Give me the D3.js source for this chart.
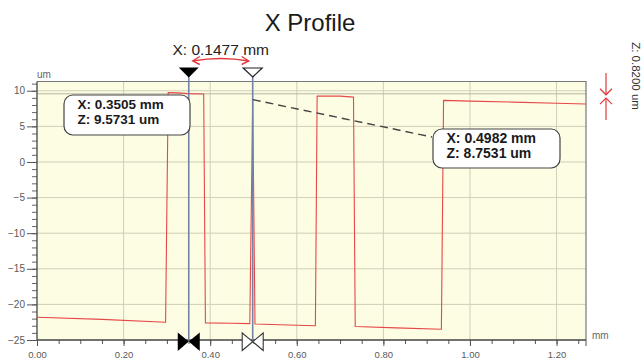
<!DOCTYPE html>
<html><head><meta charset="utf-8">
<script src="https://cdn.jsdelivr.net/npm/d3@7"></script>
<style>
html,body{margin:0;padding:0;background:#fff;}
svg{display:block;font-family:"Liberation Sans",Arial,sans-serif;}
</style></head>
<body>
<svg id="c" width="643" height="360"></svg>
<script>
// ---- data ----
const profileX = [0, 0.15, 0.297, 0.303, 0.325, 0.35, 0.385, 0.389, 0.45, 0.4915, 0.4982, 0.5035, 0.58, 0.643, 0.647, 0.70, 0.731, 0.735, 0.83, 0.934, 0.939, 1.0, 1.1, 1.2, 1.268];
const profileZ = [-21.8, -22.1, -22.5, 9.75, 9.7, 9.6, 9.55, -22.6, -22.65, -22.7, 8.75, -22.75, -22.9, -23.0, 9.25, 9.25, 9.1, -23.1, -23.3, -23.5, 8.65, 8.55, 8.4, 8.25, 8.15];
const cursorX = [0.3505, 0.4982];
const cursorZ = [9.5731, 8.7531];
const xTicks = [0, 0.2, 0.4, 0.6, 0.8, 1.0, 1.2];
const yTicks = [-25, -20, -15, -10, -5, 0, 5, 10];
const title = "X Profile";
const dxLabel = "X: 0.1477 mm";
const dzLabel = "Z: 0.8200 um";

const svg = d3.select("#c");
const x = d3.scaleLinear().domain([0, 1.268]).range([37, 586]);
const y = d3.scaleLinear().domain([-25, 11.3]).range([340, 81.5]);
const [x0, x1] = x.range(), [yB, yT] = y.range();

// background
svg.append("rect").attr("x", x0).attr("y", yT).attr("width", x1 - x0).attr("height", yB - yT).attr("fill", "#fdfde3");

// grid
const g = svg.append("g").attr("stroke", "#cfcfba").attr("stroke-width", 1);
xTicks.filter(v => v > 0).forEach(v => g.append("line").attr("x1", x(v)).attr("x2", x(v)).attr("y1", yT).attr("y2", yB));
yTicks.filter(v => v > -25).forEach(v => g.append("line").attr("x1", x0).attr("x2", x1).attr("y1", y(v)).attr("y2", y(v)));
// level line of cursor 1
svg.append("line").attr("x1", x0).attr("x2", x1).attr("y1", y(cursorZ[0])).attr("y2", y(cursorZ[0])).attr("stroke", "#b5b5a5").attr("stroke-width", 1);

// border
svg.append("path").attr("d", `M${x0},${yT}H${x1}V${yB}`).attr("fill", "none").attr("stroke", "#777").attr("stroke-width", 1.2);

// axes
const minorY = d3.range(-25, 11.01, 1);
const minorX = d3.range(0, 1.2501, 0.05);
svg.append("g").attr("transform", `translate(${x0},0)`).call(d3.axisLeft(y).tickValues(minorY).tickSize(5).tickFormat("")).call(s => { s.select(".domain").remove(); s.selectAll("line").attr("stroke", "#666"); });
svg.append("g").attr("transform", `translate(${x0},0)`).call(d3.axisLeft(y).tickValues(yTicks).tickSize(10).tickPadding(2).tickFormat(d3.format("d")))
  .call(s => { s.select(".domain").attr("stroke", "#444").attr("stroke-width", 1.3).attr("d", `M0,${yT}V${yB}`); s.selectAll("line").attr("stroke", "#555"); s.selectAll("text").attr("fill", "#5a5a5a").attr("font-size", 10).attr("font-family", "Liberation Sans, Arial"); });
svg.append("g").attr("transform", `translate(0,${yB})`).call(d3.axisBottom(x).tickValues(minorX).tickSize(4).tickFormat("")).call(s => { s.select(".domain").remove(); s.selectAll("line").attr("stroke", "#555"); });
svg.append("g").attr("transform", `translate(0,${yB})`).call(d3.axisBottom(x).tickValues(xTicks).tickSize(6).tickPadding(5).tickFormat(d3.format(".2f")))
  .call(s => { s.select(".domain").attr("stroke", "#444").attr("stroke-width", 1.5).attr("d", `M${x0},0H${x1}`); s.selectAll("line").attr("stroke", "#555"); s.selectAll("text").attr("fill", "#5a5a5a").attr("font-size", 9.5).attr("font-family", "Liberation Sans, Arial"); });
svg.append("line").attr("x1", x1).attr("x2", x1).attr("y1", yB).attr("y2", yB + 6).attr("stroke", "#555");

svg.append("text").attr("x", x0).attr("y", 78).attr("font-size", 10).attr("fill", "#666").text("um");
svg.append("text").attr("x", 592).attr("y", 339).attr("font-size", 10).attr("fill", "#666").text("mm");

// profile
const pts = profileX.map((v, i) => [v, profileZ[i]]);
svg.append("path").datum(pts).attr("d", d3.line().x(d => x(d[0])).y(d => y(d[1])))
  .attr("fill", "none").attr("stroke", "#e64848").attr("stroke-width", 1.1).attr("stroke-linejoin", "round");

// cursor lines
cursorX.forEach(v => svg.append("line").attr("x1", x(v)).attr("x2", x(v)).attr("y1", 76).attr("y2", yB).attr("stroke", "#7383a8").attr("stroke-width", 1.6));

// dashed connector
svg.append("line").attr("x1", x(cursorX[1])).attr("y1", y(cursorZ[1])).attr("x2", 432).attr("y2", 137)
  .attr("stroke", "#444").attr("stroke-width", 1.4).attr("stroke-dasharray", "8,5");

// top triangles
const cx0 = x(cursorX[0]), cx1 = x(cursorX[1]);
svg.append("path").attr("d", `M${cx0 - 10},67.5H${cx0 + 10}L${cx0},77.5Z`).attr("fill", "#000");
svg.append("path").attr("d", `M${cx1 - 9.5},68H${cx1 + 9.5}L${cx1},77Z`).attr("fill", "#fff").attr("stroke", "#222").attr("stroke-width", 1.2);
// bottom bowties
svg.append("path").attr("d", `M${cx0 - 11},332.5V351L${cx0},341.5Z M${cx0 + 11},332.5V351L${cx0},341.5Z`).attr("fill", "#000");
svg.append("path").attr("d", `M${cx1 - 10.5},333V350.5L${cx1},341.7Z M${cx1 + 10.5},333V350.5L${cx1},341.7Z`).attr("fill", "#fff").attr("stroke", "#333").attr("stroke-width", 1.1);

// dx arrow
const red = "#e0393b";
svg.append("path").attr("d", `M${cx0 + 4},61 Q${(cx0 + cx1) / 2},56 ${cx1 - 4},61`).attr("fill", "none").attr("stroke", red).attr("stroke-width", 1.4);
svg.append("path").attr("d", `M${cx0 + 11},56.5 L${cx0 + 4},61 L${cx0 + 11},64.5`).attr("fill", "none").attr("stroke", red).attr("stroke-width", 1.4);
svg.append("path").attr("d", `M${cx1 - 11},56.5 L${cx1 - 4},61 L${cx1 - 11},64.5`).attr("fill", "none").attr("stroke", red).attr("stroke-width", 1.4);
svg.append("text").attr("x", (cx0 + cx1) / 2).attr("y", 55).attr("text-anchor", "middle").attr("font-size", 15.5).attr("fill", "#222").text(dxLabel);

// title
svg.append("text").attr("x", 310).attr("y", 31).attr("text-anchor", "middle").attr("font-size", 24).attr("fill", "#1a1a1a").text(title);

// callouts
function callout(bx, by, w, h, lines, fs) {
  svg.append("rect").attr("x", bx).attr("y", by).attr("width", w).attr("height", h).attr("rx", 9).attr("fill", "#fff").attr("stroke", "#444").attr("stroke-width", 1.2);
  lines.forEach((t, i) => svg.append("text").attr("x", bx + 13.5).attr("y", by + 13.5 + i * 15.5).attr("font-size", fs).attr("font-weight", "bold").attr("fill", "#1a1a1a").text(t));
}
callout(64, 95, 126, 40, [`X: ${cursorX[0].toFixed(4)} mm`, `Z: ${cursorZ[0].toFixed(4)} um`], 13.5);
callout(433, 129, 127, 39, [`X: ${cursorX[1].toFixed(4)} mm`, `Z: ${cursorZ[1].toFixed(4)} um`], 14);

// dz arrows
const ax = 606, yA = y(cursorZ[0]), yC = y(cursorZ[1]);
svg.append("line").attr("x1", ax).attr("x2", ax).attr("y1", 73).attr("y2", yA + 1).attr("stroke", red).attr("stroke-width", 1.2);
svg.append("path").attr("d", `M${ax - 6},${yA - 5} L${ax},${yA + 1} L${ax + 6},${yA - 5}`).attr("fill", "none").attr("stroke", red).attr("stroke-width", 1.2);
svg.append("line").attr("x1", ax).attr("x2", ax).attr("y1", 120).attr("y2", yC - 1.5).attr("stroke", red).attr("stroke-width", 1.2);
svg.append("path").attr("d", `M${ax - 6},${yC + 4.5} L${ax},${yC - 1.5} L${ax + 6},${yC + 4.5}`).attr("fill", "none").attr("stroke", red).attr("stroke-width", 1.2);
svg.append("text").attr("transform", "translate(632,76) rotate(90)").attr("text-anchor", "middle").attr("font-size", 11.5).attr("fill", "#333").text(dzLabel);
</script>
</body></html>
